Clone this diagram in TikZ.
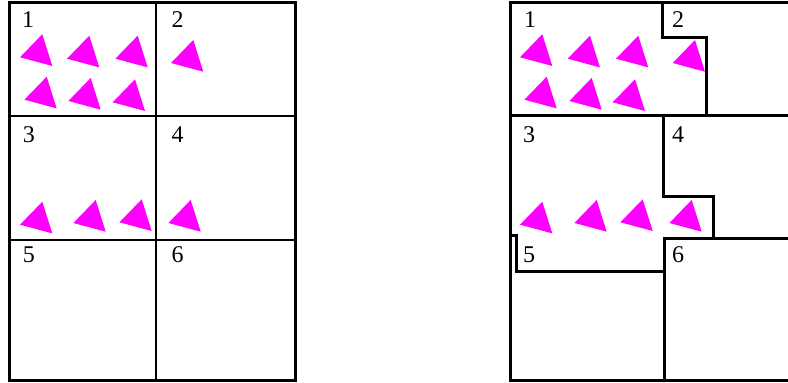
\documentclass[tikz,border=0pt]{standalone}
\usepackage{fontspec}
\setmainfont{Liberation Serif}
\usetikzlibrary{positioning}
\definecolor{fuchsia}{RGB}{255,0,255}

\begin{document}
\begin{tikzpicture}[
  x=0.5pt, y=-0.5pt,
  frame/.style={line width=1.5pt},
  cut/.style={line width=1.2pt},
  border/.style={line width=1.5pt},
  num/.style={inner sep=0pt, font=\fontsize{12}{14}\selectfont},
  tri/.pic={\fill[fuchsia] (0,0) -- (-22.3,23) -- (10,31.7) -- cycle;}
]
\useasboundingbox (0,0) rectangle (788,383);

% left grid
\draw[frame] (9.3,3) rectangle (295.5,381);
\draw[cut] (156,3) -- (156,381);
\draw[cut] (9.3,116) -- (295.5,116) (9.3,240) -- (295.5,240);

\node[num] (l1) at (28,20) {1};
\node[num] (l2) at (177.5,20) {2};
\node[num] (l3) at (29,135) {3};
\node[num] (l4) at (177.5,135) {4};
\node[num] (l5) at (29,255) {5};
\node[num] (l6) at (177.5,255) {6};

\pic at (42.3,34.3) {tri};
\pic at (89.3,35.7) {tri};
\pic at (137.7,35.7) {tri};
\pic at (46.7,76.7) {tri};
\pic at (90.7,78) {tri};
\pic at (135,79.3) {tri};
\pic at (193.3,40) {tri};
\pic at (42.3,201.7) {tri};
\pic at (95.7,200) {tri};
\pic at (141.7,199.3) {tri};
\pic at (190.7,200) {tri};

% right grid, regions redrawn
\draw[border] (790,3) -- (510.3,3) -- (510.3,381) -- (790,381);
\draw[border] (662,3) -- (662,38) -- (706,38) -- (706,116);
\draw[border] (510.3,116) -- (790,116);
\draw[border] (663,116) -- (663,197) -- (713,197) -- (713,238.5) -- (790,238.5);
\draw[border] (510.3,236) -- (516.7,236) -- (516.7,272) -- (664,272)
  -- (664,238.5) -- (713,238.5);
\draw[border] (664,272) -- (664,381);

\node[num] (r1) at (530,20) {1};
\node[num] (r2) at (678,20) {2};
\node[num] (r3) at (529,135) {3};
\node[num] (r4) at (678,135) {4};
\node[num] (r5) at (529,255) {5};
\node[num] (r6) at (678,255) {6};

\pic at (542.3,34.3) {tri};
\pic at (590,35.7) {tri};
\pic at (638.3,35.7) {tri};
\pic at (695,40) {tri};
\pic at (546.7,76.7) {tri};
\pic at (591.7,78) {tri};
\pic at (635,79.3) {tri};
\pic at (542.3,201.7) {tri};
\pic at (596.7,200) {tri};
\pic at (642.7,199.3) {tri};
\pic at (691.7,200) {tri};
\end{tikzpicture}
\end{document}
